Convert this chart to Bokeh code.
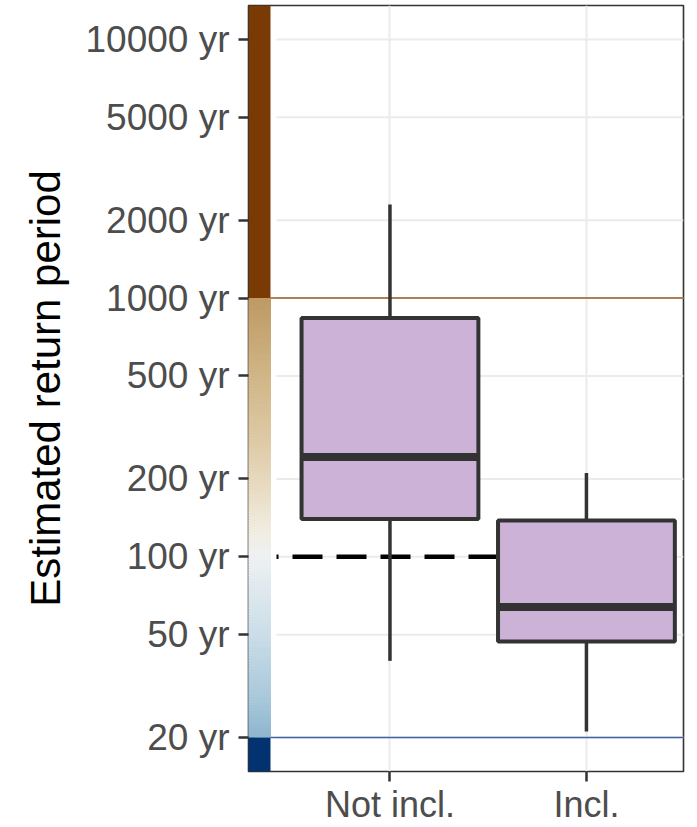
import numpy as np
from bokeh.plotting import figure
from bokeh.models import FixedTicker, Range1d
from bokeh.embed import file_html
from bokeh.resources import INLINE

# ---------------- data ----------------
categories = ["Not incl.", "Incl."]
cat_x = [1, 2]
whisker_low = [39.6, 21.1]
q1 = [140, 47]
median = [243, 64]
q3 = [837, 138]
whisker_high = [2300, 211]

y_ticks = [20, 50, 100, 200, 500, 1000, 2000, 5000, 10000]
y_tick_labels = [f"{t} yr" for t in y_ticks]

threshold_low = 20
threshold_high = 1000
reference_rp = 100

grad_values = [20, 28, 50, 100, 127, 200, 280, 500, 1000]
grad_colors = ["#8DB5CE", "#A7C7DA", "#CBDDE8", "#EEF1F2", "#F1ECE0",
               "#E6D8BC", "#DDCAA6", "#D0B687", "#BE9A64"]
color_high = "#7A3A03"
color_low = "#033270"

# ---------------- layout ----------------
X0, X1 = 0.280, 2.494
Y0, Y1 = 14.79, 13520
BAR_X1 = 0.392
GRID_X0 = 0.4226
BOX_W = 0.9
FONT = "Liberation Sans"

p = figure(width=689, height=827, x_range=Range1d(X0, X1),
           y_range=Range1d(Y0, Y1), y_axis_type="log",
           output_backend="svg", toolbar_location=None,
           min_border_left=248, min_border_right=6,
           min_border_top=5, min_border_bottom=55)
p.background_fill_color = "white"
p.border_fill_color = "white"
p.outline_line_color = "#333333"
p.outline_line_width = 1.6

# grid
p.ygrid.grid_line_color = None
p.xgrid.grid_line_color = "#EBEBEB"
p.xgrid.grid_line_width = 2
p.segment(x0=GRID_X0, y0=y_ticks, x1=X1, y1=y_ticks,
          line_color="#EBEBEB", line_width=2)

# colour bar on the left
def hex2rgb(h):
    return np.array([int(h[i:i + 2], 16) for i in (1, 3, 5)], dtype=float)

lv = np.log10(grad_values)
rgbs = np.array([hex2rgb(c) for c in grad_colors])
edges = np.linspace(np.log10(threshold_low), np.log10(threshold_high), 161)
mids = (edges[:-1] + edges[1:]) / 2
cols = []
for m in mids:
    c = [np.interp(m, lv, rgbs[:, k]) for k in range(3)]
    cols.append("#%02x%02x%02x" % tuple(int(round(v)) for v in c))
p.quad(left=X0, right=BAR_X1, bottom=10 ** edges[:-1], top=10 ** edges[1:],
       fill_color=cols, line_color=cols, line_width=1)
p.quad(left=X0, right=BAR_X1, bottom=threshold_high, top=Y1,
       fill_color=color_high, line_color=None)
p.quad(left=X0, right=BAR_X1, bottom=Y0, top=threshold_low,
       fill_color=color_low, line_color=None)

# threshold lines
p.segment(x0=BAR_X1, y0=threshold_high, x1=X1, y1=threshold_high,
          line_color="#9A5A22", line_width=1.5)
p.segment(x0=BAR_X1, y0=threshold_low, x1=X1, y1=threshold_low,
          line_color="#4262A2", line_width=1.5)

# dashed reference line
p.segment(x0=GRID_X0, y0=reference_rp, x1=1.7, y1=reference_rp,
          line_color="black", line_width=4.5, line_dash="30 14",
          line_dash_offset=28)

# whiskers
p.segment(x0=cat_x, y0=q3, x1=cat_x, y1=whisker_high,
          line_color="#333333", line_width=3.5)
p.segment(x0=cat_x, y0=whisker_low, x1=cat_x, y1=q1,
          line_color="#333333", line_width=3.5)

# boxes
lefts = [x - BOX_W / 2 for x in cat_x]
rights = [x + BOX_W / 2 for x in cat_x]
p.quad(left=lefts, right=rights, bottom=q1, top=q3,
       fill_color="#CBB2D6", line_color="#333333", line_width=4)
p.segment(x0=lefts, y0=median, x1=rights, y1=median,
          line_color="#333333", line_width=8)

# axes
p.xaxis.ticker = FixedTicker(ticks=cat_x)
p.xaxis.major_label_overrides = {x: c for x, c in zip(cat_x, categories)}
p.yaxis.ticker = FixedTicker(ticks=y_ticks)
p.yaxis.major_label_overrides = {t: l for t, l in zip(y_ticks, y_tick_labels)}

for ax in (p.xaxis, p.yaxis):
    ax.axis_line_color = None
    ax.major_tick_line_color = "#333333"
    ax.major_tick_line_width = 2.5
    ax.major_tick_out = 10
    ax.major_tick_in = 0
    ax.minor_tick_line_color = None
    ax.major_label_text_color = "#4D4D4D"
    ax.major_label_text_font = FONT

p.xaxis.major_label_text_font_size = "36px"
p.xaxis.major_label_standoff = 2
p.yaxis.major_label_text_font_size = "37px"
p.yaxis.major_label_standoff = 9

p.yaxis.axis_label = "Estimated return period"
p.yaxis.axis_label_text_font = FONT
p.yaxis.axis_label_text_font_size = "42px"
p.yaxis.axis_label_text_font_style = "normal"
p.yaxis.axis_label_text_color = "black"
p.yaxis.axis_label_standoff = 14

open("out.html", "w").write(file_html(p, INLINE))
